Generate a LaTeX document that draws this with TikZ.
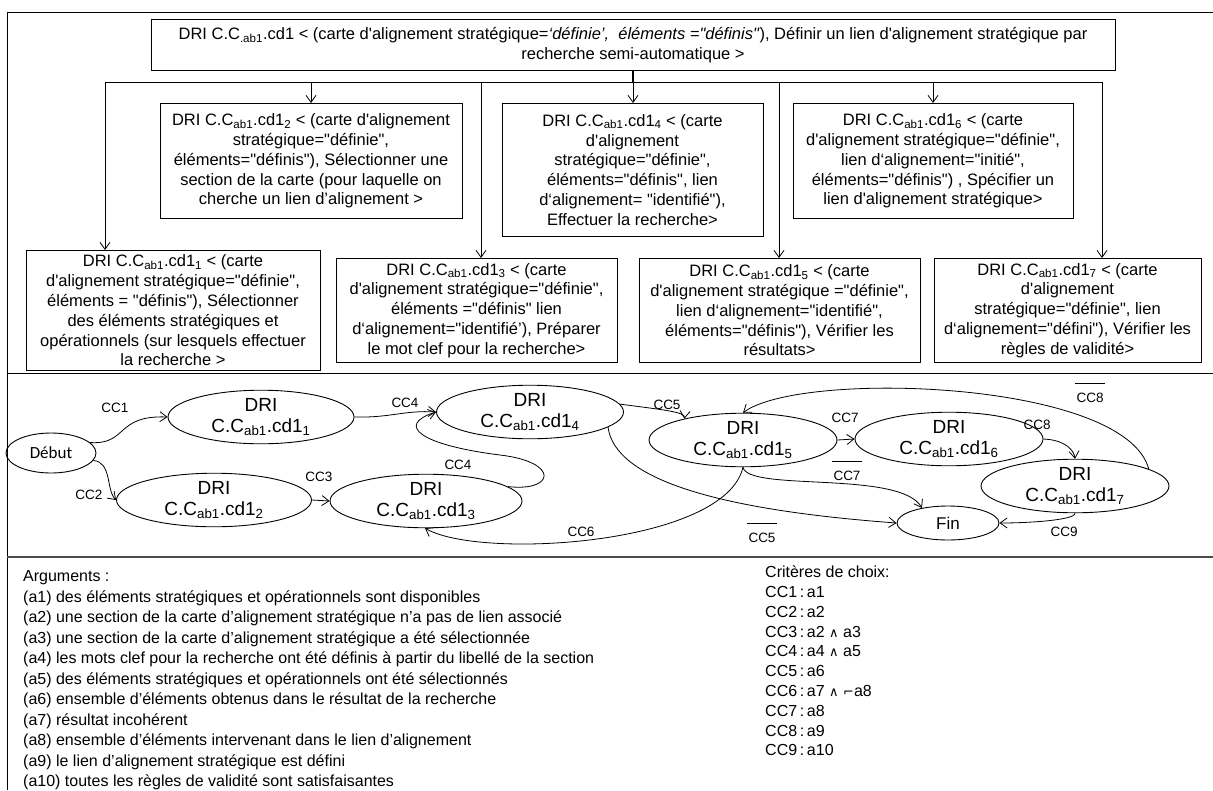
\documentclass[tikz,border=0pt]{standalone}
\usepackage{fontspec}
\setmainfont{Liberation Sans}[Ligatures=TeXOff]
\newfontfamily\carl{Carlito}
\newfontfamily\dvs{DejaVu Sans}
\usetikzlibrary{shapes.geometric,arrows.meta}
\newcommand{\sbs}[1]{\textsubscript{#1}}
\newcommand{\boxfont}{\fontsize{16.5}{19.8}\selectfont}
\newcommand{\stfont}{\fontsize{19}{21}\selectfont}
\newcommand{\labfont}{\fontsize{13.5}{15}\selectfont}
\newcommand{\txtfont}{\fontsize{16}{18}\selectfont}
\newcommand{\ovl}[1]{\rule{30pt}{0.8pt}\\[4pt]#1}
\newcommand{\wedg}{{\dvs\fontsize{13}{14}\selectfont ∧}}
\tikzset{
  box/.style={draw, line width=0.9pt, align=center, inner sep=3pt, font=\boxfont, anchor=north},
  st/.style={draw, ellipse, line width=0.9pt, inner sep=0pt, align=center, font=\stfont},
  lab/.style={font=\labfont, inner sep=0pt, align=center},
  arr/.style={-{Straight Barb[length=7pt,width=10pt]}, line width=0.8pt},
  txt/.style={anchor=west, inner sep=0pt, font=\txtfont},
  frame/.style={line width=0.9pt}
}
\begin{document}
\begin{tikzpicture}[x=1pt,y=-1pt]
\useasboundingbox (0,0) rectangle (1213,790);
% frame
\draw[frame] (7,790) -- (7,12) -- (1213,12);
\draw[frame] (7,373) -- (1213,373);
\draw[frame, black!70, line width=1.2pt] (7,557) -- (1213,557);

% top box
\node[box, minimum width=964, minimum height=51] (top) at (633,19) {DRI C.C\sbs{.ab1}.cd1 < (carte d'alignement stratégique=\textit{‘définie’,~ éléments ="définis"}), Définir un lien d'alignement stratégique par\\recherche semi-automatique >};

% first row
\node[box, minimum width=302, minimum height=115] (b2) at (311,103) {DRI C.C\sbs{ab1}.cd1\sbs{2} < (carte d'alignement\\stratégique="définie",\\éléments="définis"), Sélectionner une\\section de la carte (pour laquelle on\\cherche un lien d’alignement >};
\node[box, minimum width=261, minimum height=133] (b4) at (632.5,103) {DRI C.C\sbs{ab1}.cd1\sbs{4} < (carte\\d'alignement\\stratégique="définie",\\éléments="définis", lien\\d‘alignement= "identifié"),\\Effectuer la recherche>};
\node[box, minimum width=280, minimum height=115] (b6) at (933,103) {DRI C.C\sbs{ab1}.cd1\sbs{6} < (carte\\d'alignement stratégique="définie",\\lien d‘alignement="initié",\\éléments="définis") , Spécifier un\\lien d'alignement stratégique>};

% second row
\node[box, minimum width=294, minimum height=120] (b1) at (173,250) {DRI C.C\sbs{ab1}.cd1\sbs{1} < (carte\\d'alignement stratégique="définie",\\éléments = "définis"), Sélectionner\\des éléments stratégiques et\\opérationnels (sur lesquels effectuer\\la recherche >};
\node[box, minimum width=281, minimum height=104] (b3) at (476.5,258) {DRI C.C\sbs{ab1}.cd1\sbs{3} < (carte\\d'alignement stratégique="définie",\\éléments ="définis" lien\\d‘alignement="identifié’), Préparer\\le mot clef pour la recherche>};
\node[box, minimum width=281, minimum height=104] (b5) at (779.5,258) {DRI C.C\sbs{ab1}.cd1\sbs{5} < (carte\\d'alignement stratégique ="définie",\\lien d‘alignement="identifié",\\éléments="définis"), Vérifier les\\résultats>};
\node[box, minimum width=267, minimum height=104] (b7) at (1067.5,258) {DRI C.C\sbs{ab1}.cd1\sbs{7} < (carte\\d'alignement\\stratégique="définie", lien\\d‘alignement="défini"), Vérifier les\\règles de validité>};

% tree
\coordinate (jn) at (633,82);
\coordinate (tl) at (105,82);
\coordinate (tr) at (1102,82);
\coordinate (t3) at (481,82);
\coordinate (t5) at (779,82);
\draw[line width=1.3pt] (top.south) -- (jn);
\draw[line width=0.9pt] (tl) -- (tr);
\draw[arr] (tl) -- (tl |- b1.north);
\draw[arr] (b2.north |- jn) -- (b2.north);
\draw[arr] (t3) -- (t3 |- b3.north);
\draw[arr] (jn) -- (jn |- b4.north);
\draw[arr] (t5) -- (t5 |- b5.north);
\draw[arr] (933,82) -- (b6.north);
\draw[arr] (tr) -- (tr |- b7.north);

% graph states
\node[st, minimum width=90, minimum height=40, font=\carl\fontsize{17}{19}\selectfont] (deb) at (51,453) {Début};
\node[st, minimum width=186, minimum height=50] (c1) at (261,417) {DRI\\C.C\sbs{ab1}.cd1\sbs{1}};
\node[st, minimum width=195, minimum height=46] (c2) at (214,500) {DRI\\C.C\sbs{ab1}.cd1\sbs{2}};
\node[st, minimum width=192, minimum height=47] (c3) at (426,501) {DRI\\C.C\sbs{ab1}.cd1\sbs{3}};
\node[st, minimum width=187, minimum height=51] (c4) at (530,412) {DRI\\C.C\sbs{ab1}.cd1\sbs{4}};
\node[st, minimum width=188, minimum height=46] (c5) at (743,440) {DRI\\C.C\sbs{ab1}.cd1\sbs{5}};
\node[st, minimum width=188, minimum height=44] (c6) at (949,439) {DRI\\C.C\sbs{ab1}.cd1\sbs{6}};
\node[st, minimum width=188, minimum height=42] (c7) at (1075,486) {DRI\\C.C\sbs{ab1}.cd1\sbs{7}};
\node[st, minimum width=102, minimum height=34, font=\fontsize{17}{19}\selectfont] (fin) at (948,523) {Fin};

% graph connectors
\draw[arr] (deb.15) .. controls (128,445) and (115,415) .. (c1.180);
\draw[arr] (deb.-10) .. controls (112,462) and (106,490) .. (c2.180);
\draw[arr] (c1.east) .. controls (390,418) and (405,410) .. (c4.180);
\draw[arr] (c2.east) -- (c3.west);
\draw[arr] (c3.10) .. controls (555,492) and (560,462) .. (500,455) .. controls (420,445) and (395,425) .. (c4.180);
\draw[arr] (c4.5) .. controls (665,410) and (685,412) .. (c5.160);
\draw[arr] (c4.-11) .. controls (615,480) and (720,510) .. (fin.west);
\draw[arr] (c5.south) .. controls (725,545) and (480,560) .. (c3.-92);
\draw[arr] (c5.east) -- (c6.west);
\draw[arr] (c5.south) .. controls (748,492) and (900,470) .. (fin.150);
\draw[arr] (c6.east) .. controls (1065,440) and (1074,450) .. (c7.north);
\draw[arr] (c7.13) .. controls (1125,380) and (800,370) .. (c5.north);
\draw[arr] (c7.south) .. controls (1075,520) and (1030,523) .. (fin.east);

% labels
\node[lab] (l1) at (115,408) {CC1};
\node[lab] (l2) at (89,495) {CC2};
\node[lab] (l4a) at (405,403) {CC4};
\node[lab] (l3) at (319,477) {CC3};
\node[lab] (l4b) at (458,465) {CC4};
\node[lab] (l5) at (667,405) {CC5};
\node[lab] (l6) at (581,532) {CC6};
\node[lab] (l5b) at (762,533) {\ovl{CC5}};
\node[lab] (l7) at (845,418) {CC7};
\node[lab] (l7b) at (847,471) {\ovl{CC7}};
\node[lab] (l8) at (1037,425) {CC8};
\node[lab] (l8b) at (1090,393) {\ovl{CC8}};
\node[lab] (l9) at (1064,532) {CC9};

% arguments
\node[txt] (a0) at (23,578) {Arguments :};
\node[txt] (a1) at (23,598) {(a1) des éléments stratégiques et opérationnels sont disponibles};
\node[txt] (a2) at (23,618.5) {(a2) une section de la carte d’alignement stratégique n’a pas de lien associé};
\node[txt] (a3) at (23,639) {(a3) une section de la carte d’alignement stratégique a été sélectionnée};
\node[txt] (a4) at (23,659.5) {(a4) les mots clef pour la recherche ont été définis à partir du libellé de la section};
\node[txt] (a5) at (23,680) {(a5) des éléments stratégiques et opérationnels ont été sélectionnés};
\node[txt] (a6) at (23,700.5) {(a6) ensemble d’éléments obtenus dans le résultat de la recherche};
\node[txt] (a7) at (23,721) {(a7) résultat incohérent};
\node[txt] (a8) at (23,741.5) {(a8) ensemble d’éléments intervenant dans le lien d’alignement};
\node[txt] (a9) at (23,762) {(a9) le lien d’alignement stratégique est défini};
\node[txt] (a10) at (23,782) {(a10) toutes les règles de validité sont satisfaisantes};

% criteria
\node[txt] (k0) at (765,572) {Critères de choix:};
\node[txt] (k1) at (765,592) {CC1\,:\,a1};
\node[txt] (k2) at (765,611.8) {CC2\,:\,a2};
\node[txt] (k3) at (765,631.6) {CC3\,:\,a2 \wedg{} a3};
\node[txt] (k4) at (765,651.4) {CC4\,:\,a4 \wedg{} a5};
\node[txt] (k5) at (765,671.2) {CC5\,:\,a6};
\node[txt] (k6) at (765,691) {CC6\,:\,a7 \wedg{} {\dvs\fontsize{13}{14}\selectfont ⌐}a8};
\node[txt] (k7) at (765,710.8) {CC7\,:\,a8};
\node[txt] (k8) at (765,730.6) {CC8\,:\,a9};
\node[txt] (k9) at (765,750.4) {CC9\,:\,a10};
\end{tikzpicture}
\end{document}
